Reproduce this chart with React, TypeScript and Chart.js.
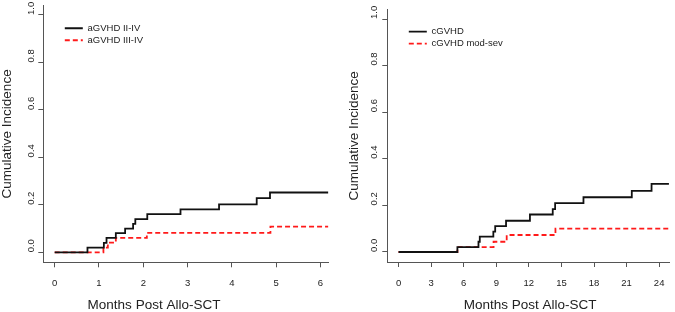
import React, { useEffect, useRef } from "react";
import { Chart, registerables } from "chart.js";

Chart.register(...registerables);

// ---- Data ----
// Left panel: acute GVHD, months post allo-SCT
const acuteLabels = ["aGVHD II-IV", "aGVHD III-IV"];
const acuteTimesII = [0, 0.74, 1.11, 1.17, 1.38, 1.59, 1.77, 1.82, 2.09, 2.84, 3.71, 4.56, 4.86, 6.18];
const acuteCumII = [0, 0.02, 0.04, 0.061, 0.081, 0.1, 0.12, 0.14, 0.161, 0.181, 0.202, 0.228, 0.252, 0.252];
const acuteTimesIII = [0, 1.1, 1.2, 1.38, 2.08, 4.87, 6.18];
const acuteCumIII = [0, 0.02, 0.041, 0.061, 0.082, 0.108, 0.108];
const acuteXTicks = [0, 1, 2, 3, 4, 5, 6];

// Right panel: chronic GVHD, months post allo-SCT
const chronicLabels = ["cGVHD", "cGVHD mod-sev"];
const chronicTimesAll = [0, 5.42, 7.36, 7.48, 8.73, 8.9, 9.9, 12.1, 14.2, 14.42, 17.03, 21.48, 23.3, 24.9];
const chronicCumAll = [0, 0.021, 0.044, 0.066, 0.087, 0.111, 0.134, 0.161, 0.184, 0.21, 0.235, 0.262, 0.292, 0.292];
const chronicTimesModSev = [0, 5.42, 8.75, 9.96, 14.45, 24.9];
const chronicCumModSev = [0, 0.021, 0.044, 0.073, 0.1, 0.1];
const chronicXTicks = [0, 3, 6, 9, 12, 15, 18, 21, 24];

const yTicks = [0, 0.2, 0.4, 0.6, 0.8, 1.0];
const xTitleText = "Months Post Allo-SCT";
const yTitleText = "Cumulative Incidence";

// ---- Styling ----
const FONT = "'Liberation Sans', Arial, Helvetica, sans-serif";
const AXIS_COLOR = "#555555";
const TEXT_COLOR = "#222222";
const SOLID_COLOR = "#111111";
const DASH_COLOR = "#ff1a1a";
const LINE_WIDTH = 1.8;
const DASH = [5, 3];

type PanelCfg = {
  width: number;
  height: number;
  labels: string[];
  solidT: number[];
  solidV: number[];
  dashT: number[];
  dashV: number[];
  xTicks: number[];
  xMin: number;
  xMax: number;
  yMin: number;
  yMax: number;
  yAxisWidth: number;
  xAxisHeight: number;
  padTop: number;
  padRight: number;
  yTickPad: number;
  yTitlePad: number;
  legendDx: number;
  legendDy: number;
  xTitleDx: number;
  xTitleY: number;
};

function toPoints(t: number[], v: number[]) {
  return t.map((x, i) => ({ x, y: v[i] }));
}

function Panel({ cfg }: { cfg: PanelCfg }) {
  const ref = useRef<HTMLCanvasElement | null>(null);

  useEffect(() => {
    if (!ref.current) return;

    const legendShift = {
      id: "legendShift",
      afterLayout(chart: any) {
        const lg = chart.legend;
        const ca = chart.chartArea;
        if (!lg || !ca) return;
        lg.left = ca.left + cfg.legendDx;
        lg.top = ca.top + cfg.legendDy;
        lg.right = ca.right;
        lg.bottom = ca.bottom;
      },
    };

    const xTitle = {
      id: "xTitleText",
      afterDraw(chart: any) {
        const { ctx, chartArea } = chart;
        ctx.save();
        ctx.font = `13.5px ${FONT}`;
        ctx.fillStyle = TEXT_COLOR;
        ctx.textAlign = "center";
        ctx.textBaseline = "middle";
        ctx.fillText(
          xTitleText,
          (chartArea.left + chartArea.right) / 2 + cfg.xTitleDx,
          cfg.xTitleY
        );
        ctx.restore();
      },
    };

    const tickFont = { family: FONT, size: 9.5 };

    const chart = new Chart(ref.current, {
      type: "line",
      data: {
        datasets: [
          {
            label: cfg.labels[0],
            data: toPoints(cfg.solidT, cfg.solidV),
            borderColor: SOLID_COLOR,
            backgroundColor: SOLID_COLOR,
            borderWidth: LINE_WIDTH,
            stepped: "before",
            pointRadius: 0,
            pointStyle: "line",
            fill: false,
            borderCapStyle: "butt",
          },
          {
            label: cfg.labels[1],
            data: toPoints(cfg.dashT, cfg.dashV),
            borderColor: DASH_COLOR,
            backgroundColor: DASH_COLOR,
            borderWidth: LINE_WIDTH,
            borderDash: DASH,
            stepped: "before",
            pointRadius: 0,
            pointStyle: "line",
            fill: false,
            borderCapStyle: "butt",
          },
        ],
      } as any,
      options: {
        responsive: false,
        animation: false,
        events: [],
        layout: { padding: { left: 0, top: cfg.padTop, right: cfg.padRight, bottom: 0 } },
        plugins: {
          legend: {
            position: "chartArea",
            align: "start",
            labels: {
              usePointStyle: true,
              pointStyle: "line",
              pointStyleWidth: 18,
              padding: 2.5,
              color: TEXT_COLOR,
              font: { family: FONT, size: 9.5 },
              generateLabels: (chart: any) => {
                const base = (Chart.defaults as any).plugins.legend.labels.generateLabels(chart);
                return base.map((item: any) => {
                  const ds = chart.data.datasets[item.datasetIndex];
                  return {
                    ...item,
                    strokeStyle: ds.borderColor,
                    fillStyle: ds.borderColor,
                    lineWidth: ds.borderWidth,
                    lineDash: ds.borderDash || [],
                    lineCap: "butt",
                    pointStyle: "line",
                  };
                });
              },
            },
          },
          tooltip: { enabled: false },
        },
        scales: {
          x: {
            type: "linear",
            min: cfg.xMin,
            max: cfg.xMax,
            afterFit: (s: any) => {
              s.height = cfg.xAxisHeight;
            },
            afterBuildTicks: (s: any) => {
              s.ticks = cfg.xTicks.map((v) => ({ value: v }));
            },
            grid: { drawOnChartArea: false, drawTicks: true, tickLength: 5, color: AXIS_COLOR, lineWidth: 1 },
            border: { display: true, color: AXIS_COLOR, width: 1 },
            ticks: {
              autoSkip: false,
              minRotation: 0,
              maxRotation: 0,
              padding: 10.5,
              color: TEXT_COLOR,
              font: tickFont,
              callback: (v: any) => String(v),
            },
          },
          y: {
            type: "linear",
            min: cfg.yMin,
            max: cfg.yMax,
            afterFit: (s: any) => {
              s.width = cfg.yAxisWidth;
            },
            afterBuildTicks: (s: any) => {
              s.ticks = yTicks.map((v) => ({ value: v }));
            },
            grid: { drawOnChartArea: false, drawTicks: true, tickLength: 5, color: AXIS_COLOR, lineWidth: 1 },
            border: { display: true, color: AXIS_COLOR, width: 1 },
            ticks: {
              autoSkip: false,
              mirror: true,
              padding: cfg.yTickPad,
              minRotation: 90,
              maxRotation: 90,
              color: TEXT_COLOR,
              font: tickFont,
              callback: (v: any) => Number(v).toFixed(1),
            },
            title: {
              display: true,
              text: yTitleText,
              color: TEXT_COLOR,
              font: { family: FONT, size: 13.5, lineHeight: 1 },
              padding: { top: cfg.yTitlePad, bottom: 0 },
            },
          },
        },
      } as any,
      plugins: [legendShift, xTitle],
    });

    return () => chart.destroy();
  }, [cfg]);

  return (
    <canvas
      ref={ref}
      width={cfg.width}
      height={cfg.height}
      style={{ width: cfg.width, height: cfg.height, display: "block" }}
    />
  );
}

const leftCfg: PanelCfg = {
  width: 335,
  height: 312,
  labels: acuteLabels,
  solidT: acuteTimesII,
  solidV: acuteCumII,
  dashT: acuteTimesIII,
  dashV: acuteCumIII,
  xTicks: acuteXTicks,
  xMin: -0.257,
  xMax: 6.176,
  yMin: -0.042,
  yMax: 1.04,
  yAxisWidth: 43.3,
  xAxisHeight: 49.7,
  padTop: 5.5,
  padRight: 6.7,
  yTickPad: -11.8,
  yTitlePad: 1,
  legendDx: 19,
  legendDy: 15.5,
  xTitleDx: -31.8,
  xTitleY: 305,
};

const rightCfg: PanelCfg = {
  width: 340,
  height: 312,
  labels: chronicLabels,
  solidT: chronicTimesAll,
  solidV: chronicCumAll,
  dashT: chronicTimesModSev,
  dashV: chronicCumModSev,
  xTicks: chronicXTicks,
  xMin: -1.036,
  xMax: 24.96,
  yMin: -0.043,
  yMax: 1.04,
  yAxisWidth: 52.3,
  xAxisHeight: 50,
  padTop: 9.7,
  padRight: 1.7,
  yTickPad: -12.8,
  yTitlePad: 12.4,
  legendDx: 19,
  legendDy: 14.7,
  xTitleDx: 1.7,
  xTitleY: 305,
};

export default function App() {
  return (
    <div
      style={{
        position: "absolute",
        left: 0,
        top: 0,
        width: 675,
        height: 312,
        background: "#ffffff",
        overflow: "hidden",
      }}
    >
      <div style={{ position: "absolute", left: 0, top: 0, width: 335, height: 312 }}>
        <Panel cfg={leftCfg} />
      </div>
      <div style={{ position: "absolute", left: 335, top: 0, width: 340, height: 312 }}>
        <Panel cfg={rightCfg} />
      </div>
    </div>
  );
}
